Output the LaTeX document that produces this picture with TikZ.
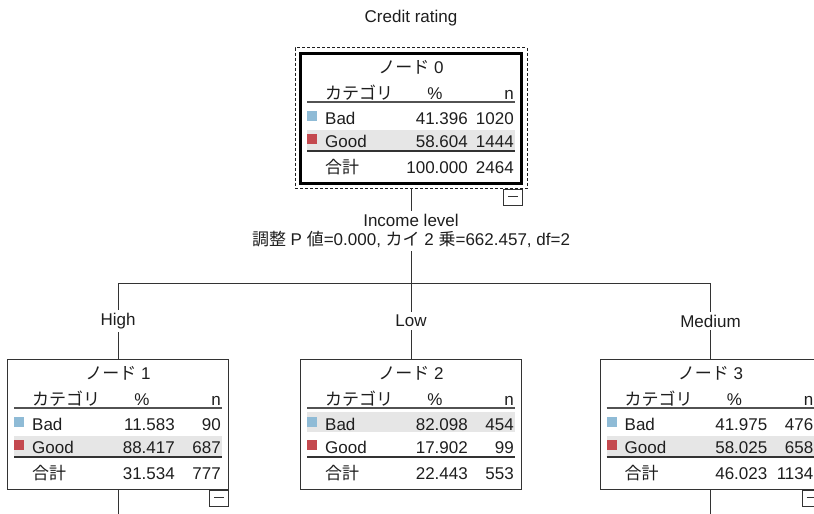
\documentclass[tikz,border=0pt]{standalone}
\usepackage{fontspec}
\setmainfont{Liberation Sans}
\newfontfamily\jp{Noto Sans CJK JP}
\usetikzlibrary{fit,calc}
\definecolor{badblue}{HTML}{8FBBD6}
\definecolor{goodred}{HTML}{C4494F}
\definecolor{bandgray}{HTML}{E6E6E6}
\definecolor{ink}{HTML}{1E1E1E}
\definecolor{edgecol}{HTML}{333333}
\tikzset{
  txt/.style={inner sep=0pt, text=ink, font=\fontsize{17}{19}\selectfont},
  tbox/.style={draw=edgecol, line width=1pt, minimum width=221pt, minimum height=130pt, inner sep=0pt},
  headline/.style={draw=edgecol!85, line width=1.4pt},
  totline/.style={draw=edgecol, line width=2pt},
  conn/.style={draw=edgecol, line width=1pt},
  minusbox/.style={draw=edgecol, line width=1pt, minimum width=19pt, minimum height=16pt, inner sep=0pt},
  lab/.style={txt, fill=white, inner sep=3pt},
  dashbox/.style={draw=ink, line width=1pt, dash pattern=on 3pt off 2pt, inner sep=4pt},
}
% #1 name, #2 node number, #3 bad pct, #4 bad n, #5 good pct, #6 good n, #7 total pct, #8 total n, #9 band top
\newcommand\TreeBox[9]{%
  \fill[bandgray] (-104,#9) rectangle (104,{#9+20});
  \node[tbox] (#1) at (0,65) {};
  \node[txt,anchor=base] (#1-t) at (0,20) {{\jp ノード} #2};
  \node[txt,anchor=base west] (#1-hc) at (-86,46) {\jp カテゴリ};
  \node[txt,anchor=base] (#1-hp) at (24,46) {\%};
  \node[txt,anchor=base east] (#1-hn) at (103,46) {n};
  \draw[headline] (-104,49) -- (104,49);
  \fill[badblue] (-104,58) rectangle (-94,68);
  \node[txt,anchor=base west] (#1-bl) at (-86,71) {Bad};
  \node[txt,anchor=base east] (#1-bp) at (57,71) {#3};
  \node[txt,anchor=base east] (#1-bn) at (103,71) {#4};
  \fill[goodred] (-104,81) rectangle (-94,91);
  \node[txt,anchor=base west] (#1-gl) at (-86,94) {Good};
  \node[txt,anchor=base east] (#1-gp) at (57,94) {#5};
  \node[txt,anchor=base east] (#1-gn) at (103,94) {#6};
  \draw[totline] (-104,98) -- (104,98);
  \node[txt,anchor=base west] (#1-sl) at (-86,120) {\jp 合計};
  \node[txt,anchor=base east] (#1-sp) at (57,120) {#7};
  \node[txt,anchor=base east] (#1-sn) at (103,120) {#8};
}
\begin{document}
\begin{tikzpicture}[x=1pt,y=-1pt]
\clip (0,0) rectangle (814,514);
\fill[white] (0,0) rectangle (814,514);

\node[txt,anchor=base] (title) at (411,22) {Credit rating};

% root node
\begin{scope}[shift={(411,53)}, tbox/.append style={draw=black, line width=3pt}]
  \TreeBox{n0}{0}{41.396}{1020}{58.604}{1444}{100.000}{2464}{77}
\end{scope}
\node[dashbox, fit=(n0)] (n0d) {};
\node[minusbox, anchor=north east] (m0) at (n0.east |- n0d.south) {};
\draw[conn] ($(m0.center)+(-5,-1)$) -- ($(m0.center)+(5,-1)$);

% child nodes
\begin{scope}[shift={(118,359)}]
  \TreeBox{n1}{1}{11.583}{90}{88.417}{687}{31.534}{777}{77}
\end{scope}
\begin{scope}[shift={(411,359)}]
  \TreeBox{n2}{2}{82.098}{454}{17.902}{99}{22.443}{553}{53}
\end{scope}
\begin{scope}[shift={(710.5,359)}]
  \TreeBox{n3}{3}{41.975}{476}{58.025}{658}{46.023}{1134}{77}
\end{scope}
\node[minusbox, anchor=north east] (m1) at (n1.south east) {};
\draw[conn] ($(m1.center)+(-5,-1)$) -- ($(m1.center)+(5,-1)$);
\node[minusbox, anchor=north east] (m3) at (n3.south east) {};
\draw[conn] ($(m3.center)+(-5,-1)$) -- ($(m3.center)+(5,-1)$);

% connectors
\coordinate (split) at (411,283);
\coordinate (b1) at (118,514);
\coordinate (b3) at (710.5,514);
\draw[conn] (n0d.south) -- (split);
\draw[conn] (n1.north |- split) -- (n3.north |- split);
\draw[conn] (n1.north |- split) -- (n1.north);
\draw[conn] (split) -- (n2.north);
\draw[conn] (n3.north |- split) -- (n3.north);
\draw[conn] (n1.south) -- (b1);
\draw[conn] (n3.south) -- (b3);

% labels
\node[lab, align=center] (splitlab) at (411,231) {Income level\\{\jp 調整} P {\jp 値}=0.000, {\jp カイ} 2 {\jp 乗}=662.457, df=2};
\node[lab] (labhigh) at (118,321) {High};
\node[lab] (lablow) at (411,321) {Low};
\node[lab] (labmed) at (710.5,321) {Medium};
\end{tikzpicture}
\end{document}
